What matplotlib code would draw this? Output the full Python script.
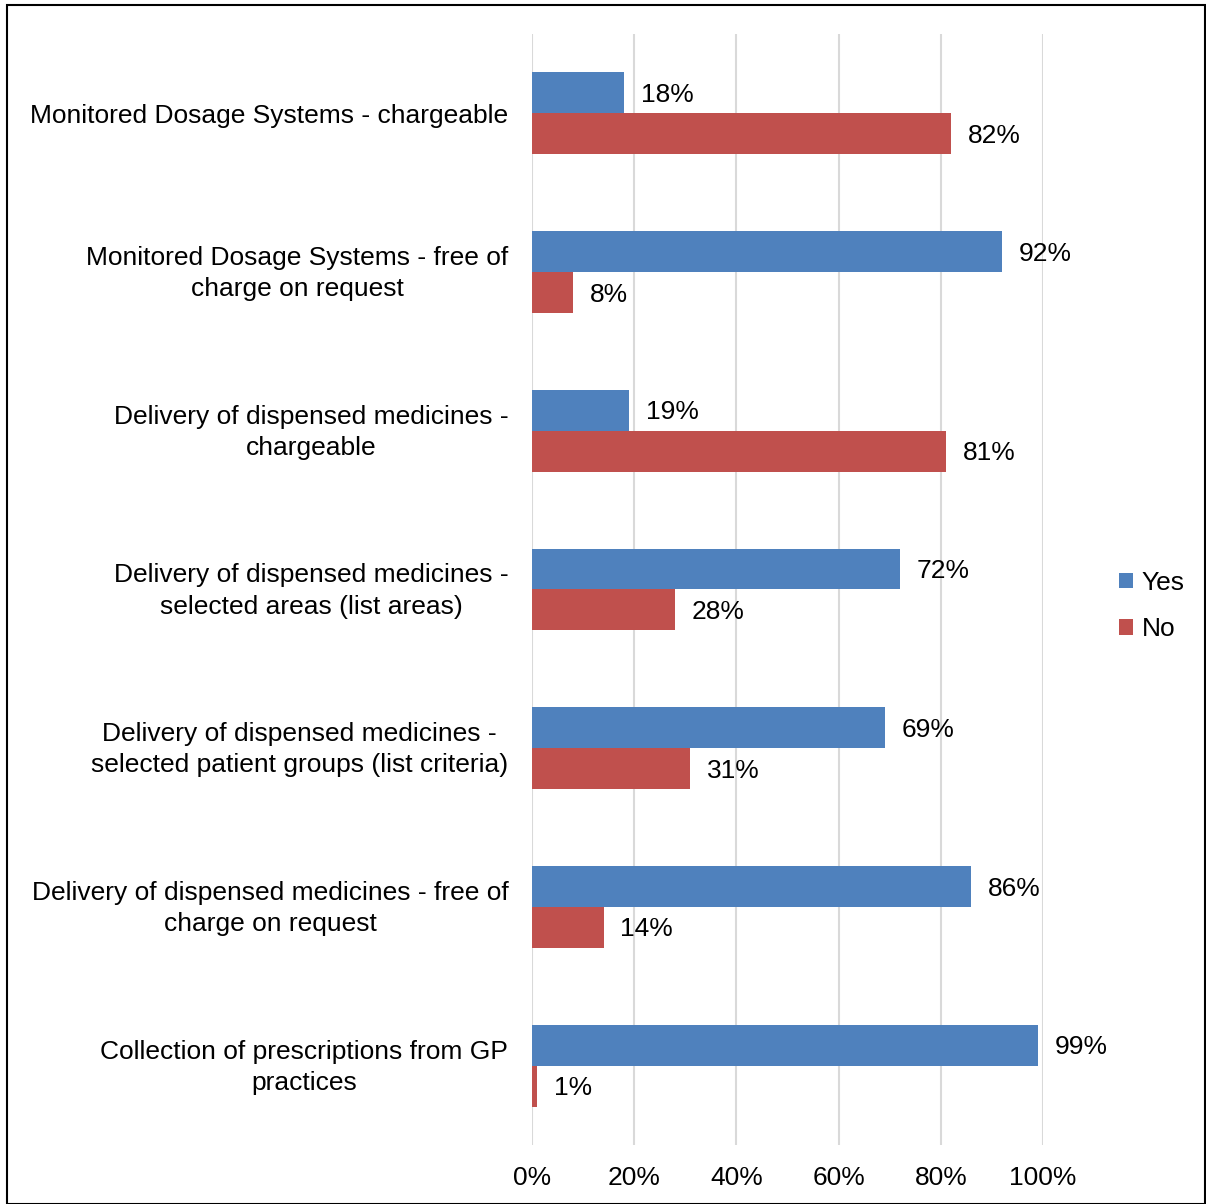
import matplotlib.pyplot as plt
import numpy as np
from matplotlib.patches import Rectangle
from matplotlib.transforms import ScaledTranslation

plt.rcParams["font.family"] = ["Liberation Sans", "DejaVu Sans"]

categories = [
    "Monitored Dosage Systems - chargeable",
    "Monitored Dosage Systems - free of\ncharge on request",
    "Delivery of dispensed medicines -\nchargeable",
    "Delivery of dispensed medicines -\nselected areas (list areas)",
    "Delivery of dispensed medicines -\nselected patient groups (list criteria)",
    "Delivery of dispensed medicines - free of\ncharge on request",
    "Collection of prescriptions from GP\npractices",
]
yes_pct = [18, 92, 19, 72, 69, 86, 99]
no_pct = [82, 8, 81, 28, 31, 14, 1]
x_ticks = [0, 20, 40, 60, 80, 100]

BLUE = "#4F81BD"
RED = "#C0504D"
FS = 19

fig = plt.figure(figsize=(12.06, 12.04), dpi=100)
ax = fig.add_axes([0.4411, 0.0490, 0.4237, 0.9228])

y = np.arange(len(categories))
h = 0.258
bars_yes = ax.barh(y - h / 2, yes_pct, height=h, color=BLUE, label="Yes", zorder=2)
bars_no = ax.barh(y + h / 2, no_pct, height=h, color=RED, label="No", zorder=2)

for bars, vals in ((bars_yes, yes_pct), (bars_no, no_pct)):
    for b, v in zip(bars, vals):
        ax.annotate(f"{v}%", (v, b.get_y() + b.get_height() / 2),
                    xytext=(12, -1.5), textcoords="offset points",
                    va="center", ha="left", fontsize=FS)

ax.set_ylim(len(categories) - 0.5, -0.5)
ax.set_xlim(0, 100)
ax.set_yticks(y)
ax.set_yticklabels(categories, fontsize=FS, multialignment="center",
                   linespacing=1.38)
ax.set_xticks(x_ticks)
ax.set_xticklabels([f"{t}%" for t in x_ticks], fontsize=FS)
ax.tick_params(axis="y", length=0, pad=17)
ax.tick_params(axis="x", length=0, pad=15)
ax.grid(axis="x", color="#D9D9D9", linewidth=1.5, zorder=0)
for s in ax.spines.values():
    s.set_visible(False)

# two-line labels sit a little high, centred on the bar pair
lift = ScaledTranslation(0, 4.5 / 100, fig.dpi_scale_trans)
for lbl in ax.get_yticklabels():
    if "\n" in lbl.get_text():
        lbl.set_transform(lbl.get_transform() + lift)

ax.legend(loc="center left", bbox_to_anchor=(1.103, 0.485), frameon=False,
          fontsize=FS, handlelength=0.5, handleheight=0.5,
          handletextpad=0.35, labelspacing=0.85)

# outer frame around the whole chart
fig.patches.append(Rectangle((0.006, 0.0), 0.993, 0.9955, transform=fig.transFigure,
                             fill=False, edgecolor="black", linewidth=1.5))

fig.savefig("out.png", dpi=100)
